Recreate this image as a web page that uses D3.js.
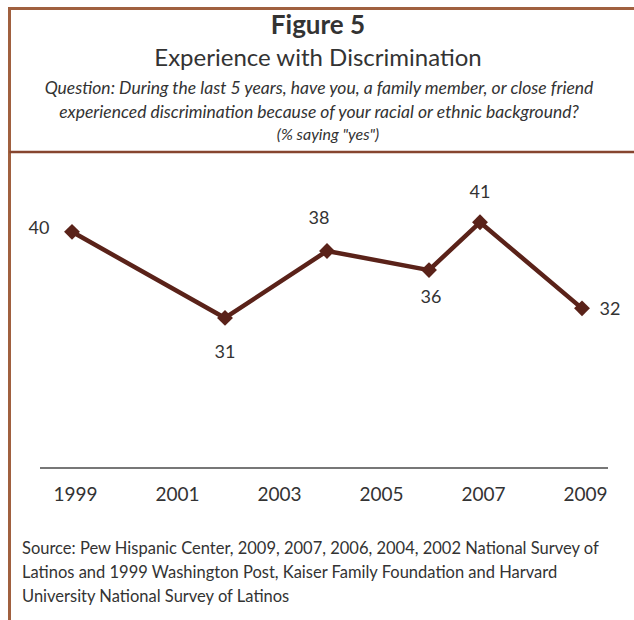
<!DOCTYPE html>
<html>
<head>
<meta charset="utf-8">
<script src="https://cdn.jsdelivr.net/npm/d3@7"></script>
<style>
  body { margin: 0; background: #fff; }
  text { font-family: Lato, "Open Sans", sans-serif; fill: #333; }
</style>
</head>
<body>
<svg class="chart"></svg>
<script>
let width = 634
let height = 620

// data
let years = [1999, 2002, 2004, 2006, 2007, 2009]
let values = [40, 31, 38, 36, 41, 32]
let tickYears = [1999, 2001, 2003, 2005, 2007, 2009]

// label offsets from each point (dx, dy), centre of the text
let labelDx = [-33, 0, -8, 2, 0, 28]
let labelDy = [-4, 34, -33, 27, -31, 0]

let sourceLines = [
  'Source: Pew Hispanic Center, 2009, 2007, 2006, 2004, 2002 National Survey of',
  'Latinos and 1999 Washington Post, Kaiser Family Foundation and Harvard',
  'University National Survey of Latinos'
]

let svg = d3.select('.chart')
  .attr('width', width)
  .attr('height', height)

// frame
let frameColor = '#a0603f'
svg.append('line')
  .attr('x1', 9.5).attr('x2', width).attr('y1', 8.5).attr('y2', 8.5)
  .attr('stroke', frameColor).attr('stroke-width', 3)
svg.append('line')
  .attr('x1', 9.5).attr('x2', 9.5).attr('y1', 7).attr('y2', height)
  .attr('stroke', frameColor).attr('stroke-width', 3)
svg.append('line')
  .attr('x1', 9.5).attr('x2', width).attr('y1', 152).attr('y2', 152)
  .attr('stroke', '#86452f').attr('stroke-width', 2.5)

// titles
svg.append('text')
  .attr('x', 318).attr('y', 34)
  .attr('text-anchor', 'middle')
  .style('font-size', '26px').style('font-weight', 'bold')
  .text('Figure 5')
svg.append('text')
  .attr('x', 318).attr('y', 66)
  .attr('text-anchor', 'middle')
  .style('font-size', '24px')
  .text('Experience with Discrimination')

let question = [
  'Question: During the last 5 years, have you, a family member, or close friend',
  'experienced discrimination because of your racial or ethnic background?'
]
svg.selectAll('.question')
  .data(question)
  .enter()
  .append('text')
  .attr('class', 'question')
  .attr('x', 319)
  .attr('y', (d, i) => 94 + i * 24)
  .attr('text-anchor', 'middle')
  .style('font-size', '17.5px').style('font-style', 'italic')
  .text(d => d)
svg.append('text')
  .attr('x', 328).attr('y', 140)
  .attr('text-anchor', 'middle')
  .style('font-size', '16px').style('font-style', 'italic')
  .text('(% saying "yes")')

// scales
let x = d3.scaleLinear()
  .domain([1999, 2009])
  .range([72, 582])

let y = d3.scaleLinear()
  .domain([15, 45])
  .range([471, 184])

// baseline + year labels
svg.append('line')
  .attr('x1', 40).attr('x2', 608)
  .attr('y1', 468).attr('y2', 468)
  .attr('stroke', '#777').attr('stroke-width', 2)

let xAxis = d3.axisBottom(x)
  .tickValues(tickYears)
  .tickFormat(d3.format('d'))
  .tickSize(0)
  .tickPadding(0)

let axisG = svg.append('g')
  .attr('transform', 'translate(3, 487)')
  .call(xAxis)
axisG.select('.domain').remove()
axisG.selectAll('text')
  .style('font-family', 'Lato, "Open Sans", sans-serif')
  .style('font-size', '19px')
  .attr('fill', '#333')

// line
let points = years.map((yr, i) => ({ year: yr, value: values[i], dx: labelDx[i], dy: labelDy[i] }))
let lineColor = '#5a2219'

let line = d3.line()
  .x(d => x(d.year))
  .y(d => y(d.value))

svg.append('path')
  .datum(points)
  .attr('d', line)
  .attr('fill', 'none')
  .attr('stroke', lineColor)
  .attr('stroke-width', 4.5)
  .attr('stroke-linejoin', 'round')

svg.selectAll('.marker')
  .data(points)
  .enter()
  .append('path')
  .attr('class', 'marker')
  .attr('d', d3.symbol().type(d3.symbolDiamond2).size(160))
  .attr('transform', d => `translate(${x(d.year)}, ${y(d.value)})`)
  .attr('fill', lineColor)

// value labels
svg.selectAll('.vlabel')
  .data(points)
  .enter()
  .append('text')
  .attr('class', 'vlabel')
  .attr('x', d => x(d.year) + d.dx)
  .attr('y', d => y(d.value) + d.dy)
  .attr('dy', '0.35em')
  .attr('text-anchor', 'middle')
  .style('font-size', '18px')
  .text(d => d.value)

// source
svg.selectAll('.source')
  .data(sourceLines)
  .enter()
  .append('text')
  .attr('class', 'source')
  .attr('x', 22)
  .attr('y', (d, i) => 554 + i * 24)
  .style('font-size', '16.5px')
  .text(d => d)
</script>
</body>
</html>
